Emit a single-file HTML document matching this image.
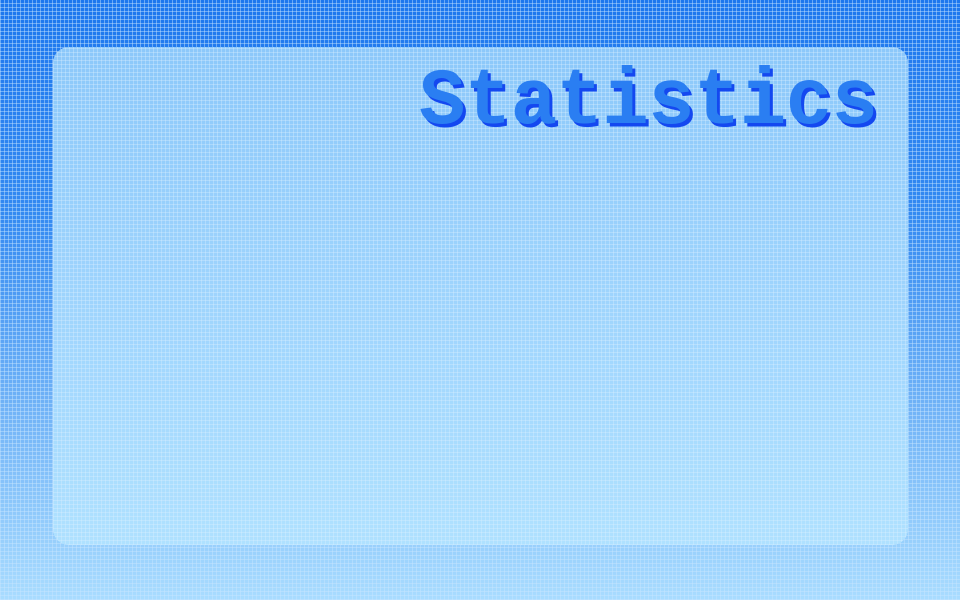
<!DOCTYPE html>
<html><head><meta charset="utf-8"><style>
html,body{margin:0;padding:0;width:960px;height:600px;overflow:hidden}
#bg{position:absolute;left:0;top:0;width:960px;height:600px;
background:linear-gradient(180deg,#1d77ee 0%,#3389f1 35%,#74b5f7 70%,#a9dcff 100%)}
#grid{position:absolute;left:0;top:0;width:960px;height:600px;
background-image:repeating-linear-gradient(90deg,rgba(200,230,255,0.45) 0 1px,transparent 1px 4px),repeating-linear-gradient(0deg,rgba(200,230,255,0.45) 0 1px,transparent 1px 4px)}
#panel{position:absolute;left:53px;top:47px;width:855px;height:498px;border-radius:16px;
background:linear-gradient(180deg,#8cc8fa 0%,#9ed4fd 50%,#afe1ff 100%)}
#pgrid{position:absolute;left:0;top:0;width:100%;height:100%;border-radius:16px;
background-image:repeating-linear-gradient(90deg,rgba(220,240,255,0.35) 0 1px,transparent 1px 4px),repeating-linear-gradient(0deg,rgba(220,240,255,0.35) 0 1px,transparent 1px 4px)}
#title{position:absolute;left:419px;top:62px;font-family:"Liberation Mono",monospace;font-weight:bold;font-size:78px;line-height:80px;color:#2a7ef2;letter-spacing:-0.5px;
text-shadow:3px 3px 0 #1448f0;transform:scale(0.99,1.02);transform-origin:top left;white-space:nowrap}
</style></head><body>
<div id="bg"></div>
<div id="grid"></div>
<div id="panel"><div id="pgrid"></div></div>
<div id="title">Statistics</div>
</body></html>
